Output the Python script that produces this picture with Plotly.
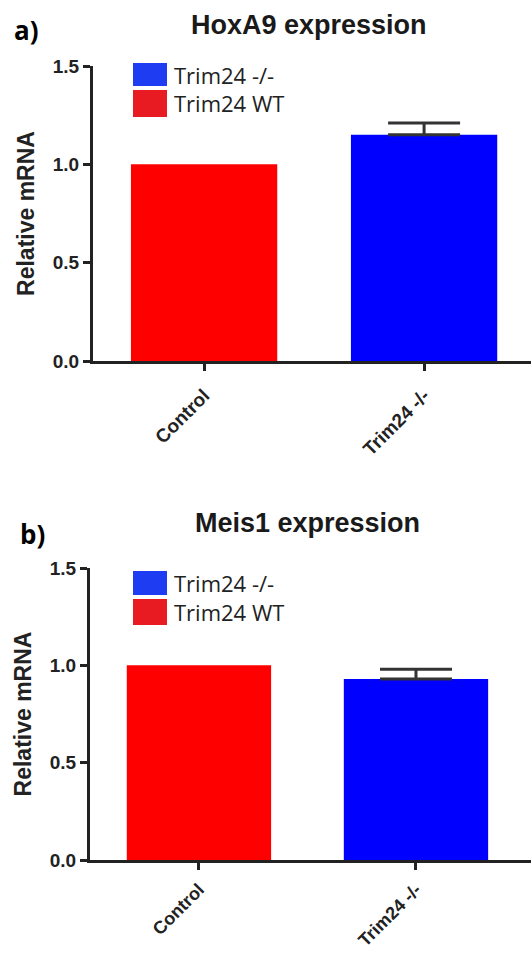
import plotly.graph_objects as go

# ---- data ----
categories = ["Control", "Trim24 -/-"]
series_names = ["Trim24 WT", "Trim24 -/-"]
hoxa9_values = [1.00, 1.15]
hoxa9_errors = [None, 0.06]
meis1_values = [1.00, 0.93]
meis1_errors = [None, 0.05]
y_ticks = [0.0, 0.5, 1.0, 1.5]
y_tick_labels = ["0.0", "0.5", "1.0", "1.5"]
panel_titles = ["HoxA9 expression", "Meis1 expression"]
panel_letters = ["a)", "b)"]
legend_labels = ["Trim24 -/-", "Trim24 WT"]

W, H = 531, 956
bar_colors = ["#FF0000", "#0000FF"]
swatch_colors = ["#1E3CF2", "#E81A22"]
axis_color = "#222222"


def px_x(p):
    return p / W


def px_y(p):
    return 1 - p / H


fig = go.Figure()

panels = [
    (hoxa9_values, hoxa9_errors, "x", "y"),
    (meis1_values, meis1_errors, "x2", "y2"),
]
for vals, errs, xa, ya in panels:
    for i, cat in enumerate(categories):
        err = errs[i]
        fig.add_trace(go.Bar(
            x=[cat], y=[vals[i]], name=series_names[i],
            xaxis=xa, yaxis=ya, width=0.665,
            marker=dict(color=bar_colors[i], line=dict(width=0)),
            error_y=dict(type="data", array=[err], symmetric=False,
                         arrayminus=[0], color="#333333", thickness=3,
                         width=36, visible=err is not None),
            showlegend=False,
        ))

ytick_font = dict(family="Liberation Sans, Arial", size=19, color="#222222", weight="bold")
title_font = dict(family="Liberation Sans, Arial", size=23, color="#222222", weight="bold")

common_y = dict(range=[0, 1.5], tickvals=y_ticks, ticktext=y_tick_labels,
                showline=True, linecolor=axis_color, linewidth=3,
                ticks="outside", ticklen=7, tickwidth=3, tickcolor=axis_color,
                showgrid=False, zeroline=False, tickfont=ytick_font,
                title=dict(text="Relative mRNA", font=title_font, standoff=12),
                automargin=False)
common_x = dict(showline=True, linecolor=axis_color, linewidth=3,
                ticks="outside", ticklen=7, tickwidth=3, tickcolor=axis_color,
                showgrid=False, zeroline=False,
                tickangle=-45, automargin=False,
                categoryorder="array", categoryarray=categories)

fig.update_layout(
    width=W, height=H,
    margin=dict(l=0, r=0, t=0, b=0),
    paper_bgcolor="white", plot_bgcolor="white",
    barmode="overlay",
    showlegend=False,
    xaxis=dict(common_x, domain=[px_x(93), 1], range=[-0.505, 1.486], anchor="y",
               ticklabelstandoff=6,
               tickfont=dict(family="Liberation Sans, Arial", size=19,
                             color="#222222", weight="bold")),
    yaxis=dict(common_y, domain=[px_y(361), px_y(66)], anchor="x"),
    xaxis2=dict(common_x, domain=[px_x(90), 1], range=[-0.502, 1.53], anchor="y2",
                ticklabelstandoff=2,
                tickfont=dict(family="Liberation Sans, Arial", size=18,
                              color="#222222", weight="bold")),
    yaxis2=dict(common_y, domain=[px_y(860), px_y(568)], anchor="x2"),
)

annotations = []
shapes = []
# panel titles and letters
title_pos = [(309, 25), (307, 523)]
letter_pos = [(12, 30), (18, 534)]
for k in range(2):
    annotations.append(dict(text=panel_titles[k], xref="paper", yref="paper",
                            x=px_x(title_pos[k][0]), y=px_y(title_pos[k][1]),
                            xanchor="center", yanchor="middle", showarrow=False,
                            font=dict(family="Liberation Sans, Arial", size=27,
                                      color="#1a1a1a", weight="bold")))
    annotations.append(dict(text=panel_letters[k], xref="paper", yref="paper",
                            x=px_x(letter_pos[k][0]), y=px_y(letter_pos[k][1]),
                            xanchor="left", yanchor="middle", showarrow=False,
                            font=dict(family="Open Sans", size=26,
                                      color="#000000", weight="bold")))

# legends (drawn swatches + text)
legend_rows = [[(63, 86), (90, 117)], [(571, 595), (599, 625)]]
for k in range(2):
    for j, (y0, y1) in enumerate(legend_rows[k]):
        shapes.append(dict(type="rect", xref="paper", yref="paper",
                           x0=px_x(133), x1=px_x(167), y0=px_y(y1), y1=px_y(y0),
                           fillcolor=swatch_colors[j], line=dict(width=0)))
        annotations.append(dict(text=legend_labels[j], xref="paper", yref="paper",
                                x=px_x(172), y=px_y((y0 + y1) / 2),
                                xanchor="left", yanchor="middle", showarrow=False,
                                font=dict(family="Open Sans", size=22, color="#222222")))

fig.update_layout(annotations=annotations, shapes=shapes)

fig.write_html("out.html")
